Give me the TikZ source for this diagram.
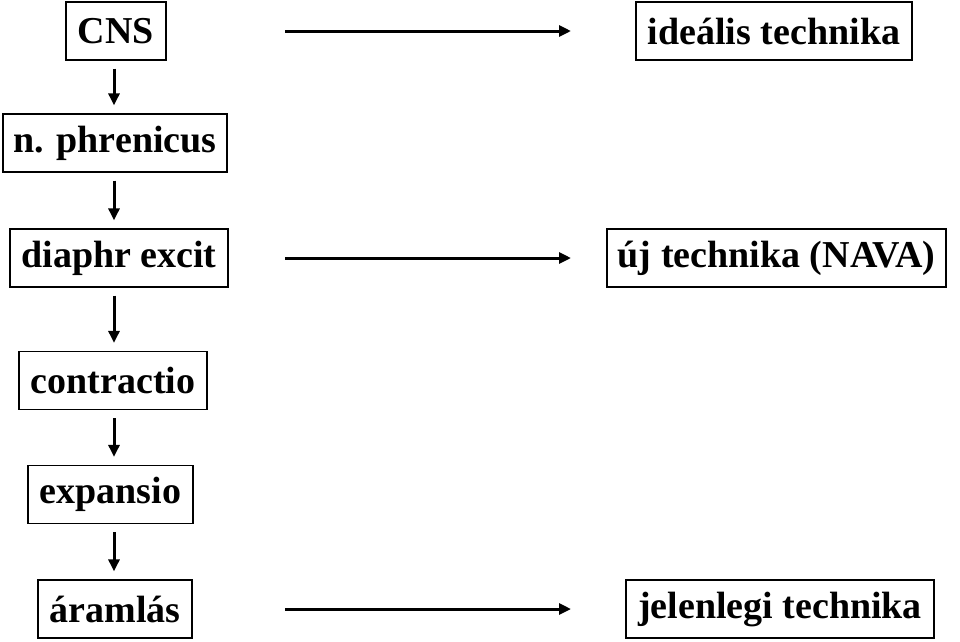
\documentclass[tikz,border=0pt]{standalone}
\usepackage{fontspec}
\setmainfont{Liberation Serif}
\usetikzlibrary{arrows.meta}
\begin{document}
\begin{tikzpicture}[x=1pt,y=-1pt,
  box/.style={draw,line width=1.3pt,minimum height=58pt,inner xsep=0pt,font=\fontsize{38}{42}\selectfont\bfseries},
  arr/.style={line width=3pt,-{Triangle[length=12pt,width=11pt]}}]
\useasboundingbox (0,0) rectangle (960,641);
\node[box,minimum width=100pt] (cns) at (116,31) {CNS};
\node[box,minimum width=224pt] (phr) at (115,143) {n. phrenicus};
\node[box,minimum width=218pt] (dia) at (119,258) {diaphr excit};
\node[box,minimum width=188pt] (con) at (113,380.5) {contractio};
\node[box,minimum width=165pt] (exp) at (110.5,494.5) {expansio};
\node[box,minimum width=154pt] (ara) at (115,609) {áramlás};
\node[box,minimum width=276pt] (ide) at (774,31) {ideális technika};
\node[box,minimum width=339pt] (uj) at (776.5,258) {új technika (NAVA)};
\node[box,minimum width=308pt] (jel) at (780,609) {jelenlegi technika};
\coordinate (vx) at (114,0);
\coordinate (hl) at (285,0);
\coordinate (hr) at (571,0);
\foreach \a/\b in {cns/phr,phr/dia,dia/con,con/exp,exp/ara}
  \draw[arr,shorten <=8pt,shorten >=8pt] (\a.south -| vx) -- (\b.north -| vx);
\foreach \a/\b in {cns/ide,dia/uj,ara/jel}
  \draw[arr] (\a -| hl) -- (\b -| hr);
\end{tikzpicture}
\end{document}
